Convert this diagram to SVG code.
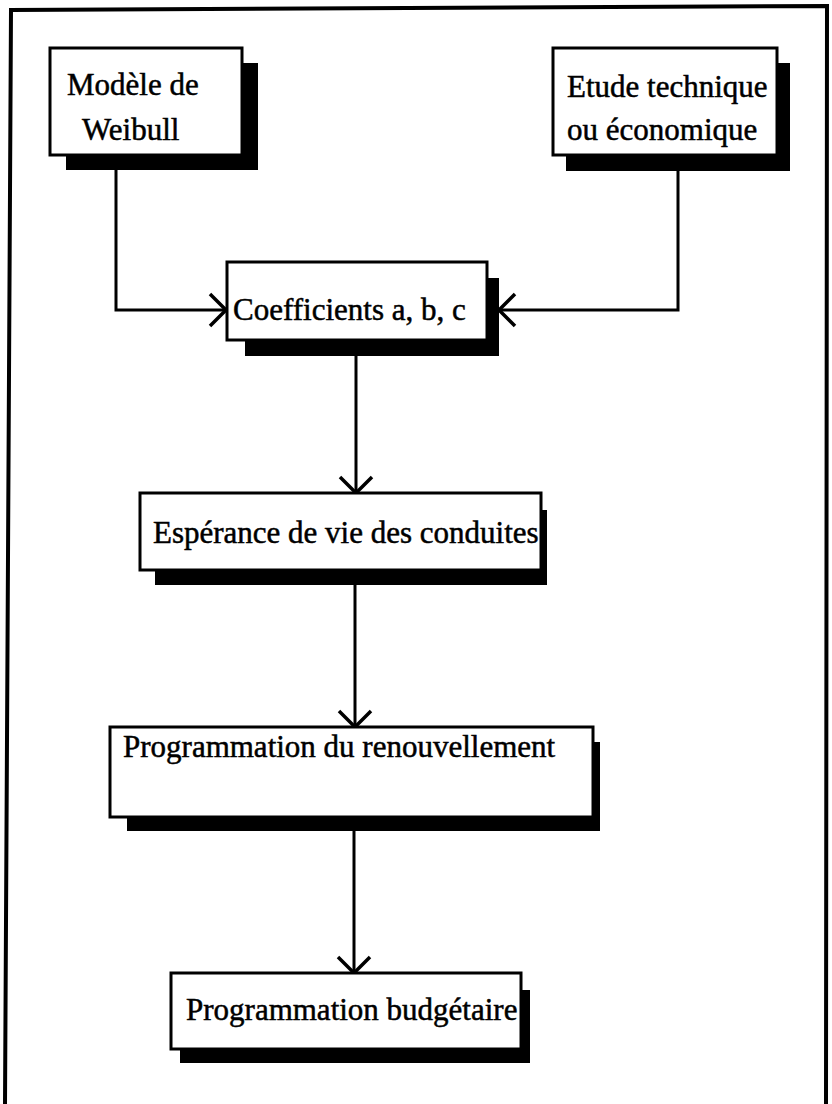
<svg xmlns="http://www.w3.org/2000/svg" width="832" height="1104" viewBox="0 0 832 1104">
<style>
.frame{fill:none;stroke:#000;stroke-width:4}
.box{fill:#fff;stroke:#000;stroke-width:3}
.shadow{fill:#000}
.lbl{font-family:"Liberation Serif","Times New Roman",serif;font-size:31px;fill:#000;stroke:#000;stroke-width:0.5}
.conn{fill:none;stroke:#000;stroke-width:3}
</style>
<defs>
<marker id="arr" viewBox="-20 -20 22 40" markerWidth="22" markerHeight="40" refX="0" refY="0" orient="auto" markerUnits="userSpaceOnUse">
<path d="M-16,-16 L0,0 L-16,16" fill="none" stroke="#000" stroke-width="3.5"/>
</marker>
</defs>
<rect width="832" height="1104" fill="#fff"/>
<polyline class="frame" points="5,1104 11,10 827,6 826,1104"/>
<g id="connectors">
<path class="conn" d="M116,170 V310 H226" marker-end="url(#arr)"/>
<path class="conn" d="M678,171 V310 H499" marker-end="url(#arr)"/>
<path class="conn" d="M356,356 V493" marker-end="url(#arr)"/>
<path class="conn" d="M355,585 V727" marker-end="url(#arr)"/>
<path class="conn" d="M354,831 V973" marker-end="url(#arr)"/>
</g>
<g id="node-weibull">
<rect class="shadow" x="66" y="63" width="192" height="107"/>
<rect class="box" x="50" y="48" width="192" height="107"/>
<text class="lbl" x="67" y="95">Modèle de</text>
<text class="lbl" x="82" y="140">Weibull</text>
</g>
<g id="node-etude">
<rect class="shadow" x="566" y="63" width="224" height="108"/>
<rect class="box" x="553" y="48" width="224" height="107"/>
<text class="lbl" x="567" y="97">Etude technique</text>
<text class="lbl" x="567" y="140">ou économique</text>
</g>
<g id="node-coefficients">
<rect class="shadow" x="245" y="278" width="254" height="78"/>
<rect class="box" x="227" y="262" width="260" height="78"/>
<text class="lbl" x="233" y="320">Coefficients a, b, c</text>
</g>
<g id="node-esperance">
<rect class="shadow" x="155" y="510" width="392" height="75"/>
<rect class="box" x="140" y="493" width="401" height="77"/>
<text class="lbl" x="153" y="543">Espérance de vie des conduites</text>
</g>
<g id="node-renouvellement">
<rect class="shadow" x="127" y="742" width="473" height="89"/>
<rect class="box" x="110" y="727" width="483" height="90"/>
<text class="lbl" x="123" y="757">Programmation du renouvellement</text>
</g>
<g id="node-budgetaire">
<rect class="shadow" x="180" y="990" width="350" height="73"/>
<rect class="box" x="171" y="973" width="350" height="76"/>
<text class="lbl" x="186" y="1020">Programmation budgétaire</text>
</g>
</svg>
